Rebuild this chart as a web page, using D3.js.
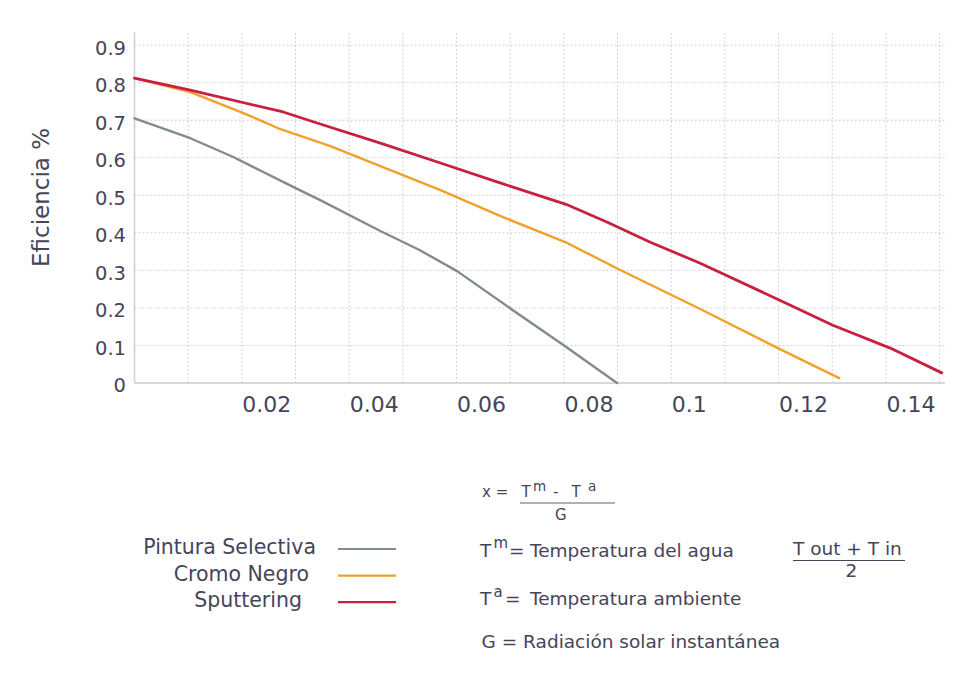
<!DOCTYPE html>
<html>
<head>
<meta charset="utf-8">
<script src="https://cdn.jsdelivr.net/npm/d3@7"></script>
<style>
  html, body { margin: 0; padding: 0; background: #ffffff; }
  svg { display: block; }
  text { font-family: "DejaVu Sans", Verdana, sans-serif; fill: #45455a; }
</style>
</head>
<body>
<svg id="chart" width="958" height="685"></svg>
<script>
// Collector efficiency vs. reduced temperature difference x = (Tm - Ta) / G
const xTicks = [0.02, 0.04, 0.06, 0.08, 0.1, 0.12, 0.14];
const xTickLabels = ["0.02", "0.04", "0.06", "0.08", "0.1", "0.12", "0.14"];
const yTicks = [0, 0.1, 0.2, 0.3, 0.4, 0.5, 0.6, 0.7, 0.8, 0.9];
const yTickLabels = ["0", "0.1", "0.2", "0.3", "0.4", "0.5", "0.6", "0.7", "0.8", "0.9"];
const gridX = [0.01, 0.02, 0.03, 0.04, 0.05, 0.06, 0.07, 0.08, 0.09, 0.10, 0.11, 0.12, 0.13, 0.14, 0.15];

const seriesNames = ["Pintura Selectiva", "Cromo Negro", "Sputtering"];
const seriesColors = ["#808b8e", "#f2a02c", "#c8203f"];

const pinturaX = [0, 0.0104, 0.0184, 0.0240, 0.0303, 0.0346, 0.0458, 0.0530, 0.0601, 0.0705, 0.0799, 0.0899];
const pinturaY = [0.705, 0.652, 0.602, 0.562, 0.517, 0.487, 0.405, 0.355, 0.298, 0.194, 0.101, 0];

const cromoX = [0, 0.0104, 0.0203, 0.0272, 0.0365, 0.0458, 0.0570, 0.0681, 0.0806, 0.0905, 0.1054, 0.1190, 0.1313];
const cromoY = [0.812, 0.775, 0.719, 0.676, 0.631, 0.578, 0.514, 0.445, 0.373, 0.301, 0.197, 0.099, 0.013];

const sputterX = [0, 0.0104, 0.0277, 0.0346, 0.0458, 0.0570, 0.0681, 0.0804, 0.0881, 0.0961, 0.1054, 0.1221, 0.1301, 0.1408, 0.1504];
const sputterY = [0.812, 0.780, 0.722, 0.690, 0.639, 0.586, 0.533, 0.476, 0.428, 0.375, 0.319, 0.208, 0.154, 0.093, 0.027];

const series = [
  { name: seriesNames[0], color: seriesColors[0], xs: pinturaX, ys: pinturaY, width: 2.4 },
  { name: seriesNames[1], color: seriesColors[1], xs: cromoX, ys: cromoY, width: 2.4 },
  { name: seriesNames[2], color: seriesColors[2], xs: sputterX, ys: sputterY, width: 2.8 }
];

const svg = d3.select("#chart");

const x = d3.scaleLinear().domain([0, 0.151]).range([134.5, 945]);
const y = d3.scaleLinear().domain([0, 0.935]).range([383, 32]);

// dotted grid
const grid = svg.append("g").attr("class", "grid");
grid.selectAll("line.v").data(gridX).join("line")
  .attr("class", "v")
  .attr("x1", d => x(d)).attr("x2", d => x(d))
  .attr("y1", y(0)).attr("y2", y(0.935))
  .attr("stroke", "#d3d3d3").attr("stroke-width", 1)
  .attr("stroke-dasharray", "2,2");
grid.selectAll("line.h").data(yTicks.filter(d => d > 0)).join("line")
  .attr("class", "h")
  .attr("x1", x(0)).attr("x2", x(0.151))
  .attr("y1", d => y(d)).attr("y2", d => y(d))
  .attr("stroke", "#cecece").attr("stroke-width", 1)
  .attr("stroke-dasharray", "2,2");

// axis lines
svg.append("line")
  .attr("x1", x(0)).attr("x2", x(0)).attr("y1", y(0.935)).attr("y2", y(0))
  .attr("stroke", "#d2d2d2").attr("stroke-width", 1.6);
svg.append("line")
  .attr("x1", x(0)).attr("x2", x(0.151)).attr("y1", y(0)).attr("y2", y(0))
  .attr("stroke", "#d8d8d8").attr("stroke-width", 2);

// y axis labels
const yAxis = d3.axisLeft(y)
  .tickValues(yTicks)
  .tickFormat((d, i) => yTickLabels[i])
  .tickSize(0)
  .tickPadding(8.5);
const gy = svg.append("g").attr("transform", `translate(${x(0)},0)`).call(yAxis);
gy.select(".domain").remove();
gy.selectAll("text")
  .attr("dy", "0.46em")
  .style("font-family", "'DejaVu Sans', Verdana, sans-serif")
  .style("font-size", "19.5px")
  .style("fill", "#45455a");

// x axis labels: each label starts at its gridline
const xAxis = d3.axisBottom(x)
  .tickValues(xTicks)
  .tickFormat((d, i) => xTickLabels[i])
  .tickSize(0)
  .tickPadding(0);
const gx = svg.append("g").attr("transform", `translate(0,${y(0)})`).call(xAxis);
gx.select(".domain").remove();
gx.selectAll("text")
  .attr("text-anchor", "start")
  .attr("y", 29)
  .attr("dy", 0)
  .style("font-family", "'DejaVu Sans', Verdana, sans-serif")
  .style("font-size", "22px")
  .style("fill", "#45455a");

// y axis title
svg.append("text")
  .attr("transform", "translate(49,197.5) rotate(-90)")
  .attr("text-anchor", "middle")
  .style("font-size", "23px")
  .text("Eficiencia %");

// curves
const line = d3.line()
  .x(d => x(d[0]))
  .y(d => y(d[1]));

svg.append("g").selectAll("path").data(series).join("path")
  .attr("d", s => line(s.xs.map((v, i) => [v, s.ys[i]])))
  .attr("fill", "none")
  .attr("stroke", s => s.color)
  .attr("stroke-width", s => s.width)
  .attr("stroke-linejoin", "round")
  .attr("stroke-linecap", "round");

// legend
const legend = svg.append("g");
series.forEach((s, i) => {
  const base = 554 + i * 26.6;
  legend.append("text")
    .attr("x", 316 - i * 7)
    .attr("y", base)
    .attr("text-anchor", "end")
    .style("font-size", "20.5px")
    .text(s.name);
  legend.append("line")
    .attr("x1", 338).attr("x2", 396)
    .attr("y1", base - 5).attr("y2", base - 5)
    .attr("stroke", s.color).attr("stroke-width", 2.2);
});

// definition of x and its terms
const note = svg.append("g");
const small = (t, px, py, fs) =>
  note.append("text").attr("x", px).attr("y", py).style("font-size", fs + "px").text(t);

small("x =", 482, 497, 15);
small("T", 521.5, 497, 15);
small("m", 533, 490.5, 13.5);
small("-", 553, 497, 15);
small("T", 571.5, 497, 15);
small("a", 588, 490.5, 13.5);
note.append("line").attr("x1", 520).attr("x2", 615).attr("y1", 503).attr("y2", 503)
  .attr("stroke", "#6a5a78").attr("stroke-width", 1.2);
small("G", 555, 520, 15);

small("T", 480, 557, 18.5);
small("m", 493.5, 547.5, 15);
small("=", 509, 557, 18.5);
small("Temperatura del agua", 530, 557, 18.5);

small("T out + T in", 793, 555, 18.5);
note.append("line").attr("x1", 793).attr("x2", 905).attr("y1", 560.5).attr("y2", 560.5)
  .attr("stroke", "#45455a").attr("stroke-width", 1.2);
small("2", 845.5, 577, 18.5);

small("T", 480, 605, 18.5);
small("a", 493.5, 596.5, 15);
small("=", 505, 605, 18.5);
small("Temperatura ambiente", 530, 605, 18.5);

small("G = Radiación solar instantánea", 481.5, 648, 18.5);
</script>
</body>
</html>
